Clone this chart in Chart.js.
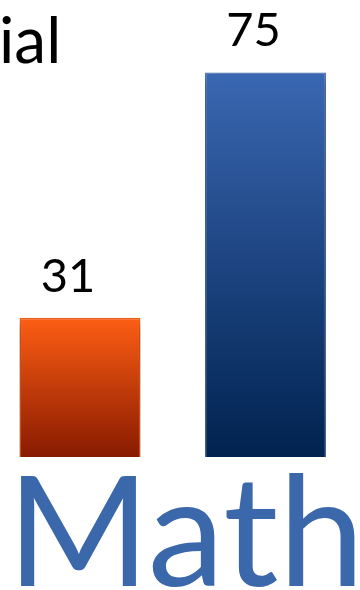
<!DOCTYPE html>
<html><head><meta charset="utf-8">
<script src="https://cdn.jsdelivr.net/npm/chart.js@4.4.1/dist/chart.umd.min.js"></script>
<style>html,body{margin:0;padding:0;background:#fff;overflow:hidden}</style>
</head><body>
<canvas id="c" width="360" height="590"></canvas>
<script>
const categories = ["Math"];
const seriesNames = ["Series 1", "Series 2"];
const orangeValues = [31];
const blueValues = [75];
const axisMin = 6;
const axisMax = 88;
const titleFragment = "ial";

function barFill(c1, c2) {
  return (ctx) => {
    const ch = ctx.chart;
    if (!ch.chartArea || ctx.raw == null) return c1;
    const y = ch.scales.y;
    const g = ch.ctx.createLinearGradient(0, y.getPixelForValue(ctx.raw), 0, y.getPixelForValue(axisMin));
    g.addColorStop(0, c1); g.addColorStop(1, c2);
    return g;
  };
}

const shadowPlugin = {
  id: 'shadow',
  beforeDatasetsDraw(chart) {
    const c = chart.ctx; c.save();
    c.shadowColor = 'rgba(0,0,0,0.45)'; c.shadowBlur = 9; c.shadowOffsetX = 0; c.shadowOffsetY = 6;
  },
  afterDatasetsDraw(chart) {
    const c = chart.ctx; c.restore();
    c.save();
    c.fillStyle = '#000'; c.font = '47px Lato'; c.textAlign = 'center'; c.textBaseline = 'alphabetic';
    chart.data.datasets.forEach((ds, i) => {
      chart.getDatasetMeta(i).data.forEach((bar, j) => {
        c.fillText(String(ds.data[j]), bar.x - 12, bar.y - 26);
      });
    });
    c.font = '64px Lato'; c.textAlign = 'left';
    c.fillText(titleFragment, -1, 63);
    c.restore();
  }
};

new Chart(document.getElementById('c'), {
  type: 'bar',
  data: {
    labels: categories,
    datasets: [
      { label: seriesNames[0], data: orangeValues, base: axisMin, backgroundColor: barFill('#fd5e14', '#881a00'), borderColor: '#f2651f', borderWidth: 1.5, clip: false },
      { label: seriesNames[1], data: blueValues, base: axisMin, backgroundColor: barFill('#3a67b2', '#00224f'), borderColor: '#4a72b2', borderWidth: 1.2, clip: false }
    ]
  },
  options: {
    responsive: false, animation: false, devicePixelRatio: 1,
    categoryPercentage: 1.0738, barPercentage: 0.652,
    layout: { padding: { left: 0, right: 14.5, top: 0, bottom: 0 } },
    plugins: { legend: { display: false }, tooltip: { enabled: false }, title: { display: false } },
    scales: {
      y: { display: false, min: axisMin, max: axisMax },
      x: {
        grid: { display: false, drawTicks: false }, border: { display: false },
        ticks: { color: '#3b67ab', font: { family: 'Lato', size: 154 }, padding: -13, labelOffset: 13 },
        afterFit(s) { s.height = 133; }
      }
    }
  },
  plugins: [shadowPlugin]
});
</script>
</body></html>
